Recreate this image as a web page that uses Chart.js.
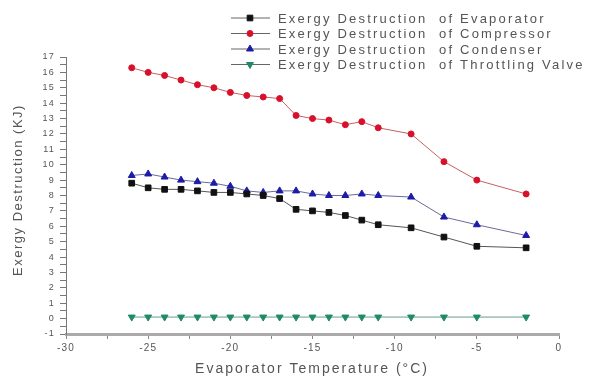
<!DOCTYPE html>
<html>
<head>
<meta charset="utf-8">
<script src="https://cdn.jsdelivr.net/npm/chart.js@4/dist/chart.umd.min.js"></script>
<style>
  html, body { margin: 0; padding: 0; background: #fff; }
  #wrap { width: 594px; height: 379px; position: relative; }
</style>
</head>
<body>
<div id="wrap"><canvas id="chartExergy"></canvas></div>
<script>
// Evaporator temperature (°C)
const temps = [-26, -25, -24, -23, -22, -21, -20, -19, -18, -17, -16, -15, -14, -13, -12, -11, -9, -7, -5, -2];

// Exergy destruction (KJ)
const evaporator = [8.8, 8.5, 8.4, 8.4, 8.3, 8.2, 8.2, 8.1, 8.0, 7.8, 7.1, 7.0, 6.9, 6.7, 6.4, 6.1, 5.9, 5.3, 4.7, 4.6];
const compressor = [16.3, 16.0, 15.8, 15.5, 15.2, 15.0, 14.7, 14.5, 14.4, 14.3, 13.2, 13.0, 12.9, 12.6, 12.8, 12.4, 12.0, 10.2, 9.0, 8.1];
const condenser = [9.3, 9.4, 9.2, 9.0, 8.9, 8.8, 8.6, 8.3, 8.2, 8.3, 8.3, 8.1, 8.0, 8.0, 8.1, 8.0, 7.9, 6.6, 6.1, 5.4];
const throttling = [0.1, 0.1, 0.1, 0.1, 0.1, 0.1, 0.1, 0.1, 0.1, 0.1, 0.1, 0.1, 0.1, 0.1, 0.1, 0.1, 0.1, 0.1, 0.1, 0.1];

const seriesLabels = [
  'Exergy Destruction  of Evaporator',
  'Exergy Destruction  of Compressor',
  'Exergy Destruction  of Condenser',
  'Exergy Destruction  of Throttling Valve'
];
const xTitle = 'Evaporator Temperature (°C)';
const yTitle = 'Exergy Destruction (KJ)';

const textColor = '#555555';
const fontFamily = 'Liberation Sans, Arial, sans-serif';

function toPoints(values) {
  return temps.map((t, i) => ({ x: t, y: values[i] }));
}

function makeDataset(label, values, color, lineColor, style, radius, rotation) {
  return {
    label: label,
    data: toPoints(values),
    borderColor: lineColor,
    backgroundColor: color,
    pointBackgroundColor: color,
    pointBorderColor: color,
    pointStyle: style,
    pointRadius: radius,
    pointRotation: rotation || 0,
    pointBorderWidth: 1,
    borderWidth: 1,
    tension: 0
  };
}

// wider letter spacing, like the scanned figure
const spacing = {
  id: 'spacing',
  beforeLayout(chart) { chart.ctx.letterSpacing = '1.2px'; },
  beforeDraw(chart) { chart.ctx.letterSpacing = '1.2px'; }
};

// Legend (line + marker) and axis titles
const originLegend = {
  id: 'originLegend',
  afterDraw(chart) {
    const ctx = chart.ctx;
    ctx.save();
    chart.data.datasets.forEach((ds, i) => {
      const y = 18 + i * 15.5;
      ctx.strokeStyle = '#666666';
      ctx.lineWidth = 1;
      ctx.beginPath();
      ctx.moveTo(231, y);
      ctx.lineTo(270, y);
      ctx.stroke();
      const pt = chart.getDatasetMeta(i).data[0];
      ctx.fillStyle = ds.pointBackgroundColor;
      ctx.strokeStyle = ds.pointBorderColor;
      ctx.lineWidth = 1;
      Chart.helpers.drawPoint(ctx, pt.options, 250, y);
      ctx.fillStyle = textColor;
      ctx.font = '13px ' + fontFamily;
      ctx.letterSpacing = '2.2px';
      ctx.textBaseline = 'middle';
      ctx.textAlign = 'left';
      ctx.fillText(ds.label, 278, y + 1);
    });

    // x title
    ctx.fillStyle = textColor;
    ctx.font = '14px ' + fontFamily;
    ctx.letterSpacing = '2px';
    ctx.textAlign = 'center';
    ctx.textBaseline = 'middle';
    ctx.fillText(xTitle, 312, 369);

    // y title
    ctx.font = '13px ' + fontFamily;
    ctx.letterSpacing = '1.5px';
    ctx.translate(18, 190);
    ctx.rotate(-Math.PI / 2);
    ctx.fillText(yTitle, 0, 0);
    ctx.restore();
  }
};

const ctx = document.getElementById('chartExergy').getContext('2d');
new Chart(ctx, {
  type: 'line',
  data: {
    datasets: [
      makeDataset(seriesLabels[0], evaporator, '#111111', '#555555', 'rect', 4),
      makeDataset(seriesLabels[1], compressor, '#d8102c', '#c86060', 'circle', 3),
      makeDataset(seriesLabels[2], condenser, '#1c1ca8', '#6a6a9a', 'triangle', 4),
      makeDataset(seriesLabels[3], throttling, '#1f8a6a', '#6a9a8a', 'triangle', 4, 180)
    ]
  },
  options: {
    responsive: true,
    maintainAspectRatio: false,
    animation: false,
    layout: { padding: { top: 57, right: 35, left: 0, bottom: 0 } },
    plugins: {
      legend: { display: false },
      tooltip: { enabled: false }
    },
    scales: {
      x: {
        type: 'linear',
        min: -30,
        max: 0,
        afterFit: (scale) => { scale.height = 45; },
        ticks: {
          stepSize: 2.5,
          autoSkip: false,
          maxRotation: 0,
          color: textColor,
          font: { size: 10, family: fontFamily },
          padding: 3,
          callback: (v) => (v % 5 === 0 ? v : '')
        },
        grid: { drawOnChartArea: false, tickLength: 5, color: '#888888' },
        border: { color: '#aaaaaa', width: 3 }
      },
      y: {
        type: 'linear',
        min: -1,
        max: 17,
        afterFit: (scale) => { scale.width = 66; },
        ticks: {
          stepSize: 0.5,
          autoSkip: false,
          color: textColor,
          font: { size: 9, family: fontFamily },
          padding: 5,
          callback: (v) => (Number.isInteger(v) ? v : '')
        },
        grid: { drawOnChartArea: false, tickLength: 6, color: '#777777' },
        border: { color: '#777777', width: 1 }
      }
    }
  },
  plugins: [spacing, originLegend]
});
</script>
</body>
</html>
